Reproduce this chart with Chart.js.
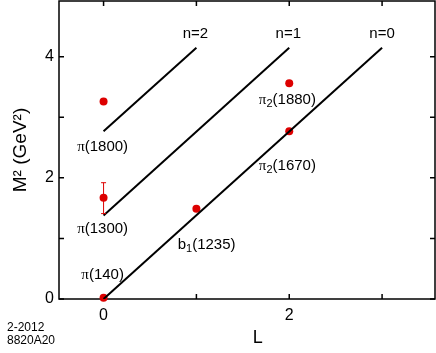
<!DOCTYPE html>
<html>
<head>
<meta charset="utf-8">
<script src="https://cdn.jsdelivr.net/npm/chart.js@4.4.1/dist/chart.umd.min.js"></script>
<style>
  html, body { margin: 0; padding: 0; background: #fff; }
  #wrap { width: 436px; height: 353px; }
</style>
</head>
<body>
<div id="wrap"><canvas id="c" width="436" height="353"></canvas></div>
<script>
// Regge trajectories (straight lines in L vs M^2)
const trajNames = ['n=0', 'n=1', 'n=2'];
const trajStartL = [0, 0, 0];
const trajEndL = [3, 2, 1];
const trajStartM2 = [0, 1.38, 2.77];
const trajEndM2 = [4.15, 4.15, 4.15];
const trajLabelL = [3.0, 1.99, 0.99];
const trajLabelM2 = [4.37, 4.37, 4.37];

// measured states
const mesonNames = ['π(140)', 'π(1300)', 'π(1800)', 'b_1(1235)', 'π_2(1670)', 'π_2(1880)'];
const mesonL = [0, 0, 0, 1, 2, 2];
const mesonM2 = [0.02, 1.67, 3.26, 1.49, 2.77, 3.56];
const mesonErrLo = [null, 1.41, null, null, null, null];
const mesonErrHi = [null, 1.92, null, null, null, null];
const mesonLabelL = [-0.01, -0.01, -0.01, 1.11, 1.98, 1.98];
const mesonLabelM2 = [0.40, 1.16, 2.51, 0.89, 2.20, 3.29];

const xTickLabels = { 0: '0', 2: '2' };
const yTickLabels = { 0: '0', 2: '2', 4: '4' };

const FONT = '"Liberation Sans", Arial, Helvetica, sans-serif';
const RED = '#dd0000';

const lineSets = trajNames.map((n, i) => ({
  type: 'line',
  label: n,
  data: [{ x: trajStartL[i], y: trajStartM2[i] }, { x: trajEndL[i], y: trajEndM2[i] }],
  borderColor: '#000',
  borderWidth: 2,
  pointRadius: 0,
  fill: false,
}));

const pointSet = {
  type: 'scatter',
  label: 'mesons',
  data: mesonL.map((l, i) => ({ x: l, y: mesonM2[i] })),
  backgroundColor: RED,
  borderColor: RED,
  pointRadius: 4,
  borderWidth: 0,
  clip: false,
};

// draw a label like b_1(1235) with subscript
function drawLabel(ctx, text, cx, cy, size) {
  const m = text.match(/^(.)(?:_(\w))?(.*)$/);
  const head = m[1], sub = m[2] || '', rest = m[3];
  const headFont = head === 'π' ? `${size}px "Liberation Serif", "DejaVu Serif", serif` : `${size}px ${FONT}`;
  const subFont = `${Math.round(size * 0.72)}px ${FONT}`;
  const restFont = `${size}px ${FONT}`;
  ctx.font = headFont; const w1 = ctx.measureText(head).width;
  ctx.font = subFont; const w2 = sub ? ctx.measureText(sub).width : 0;
  ctx.font = restFont; const w3 = ctx.measureText(rest).width;
  let x = cx - (w1 + w2 + w3) / 2;
  ctx.textAlign = 'left';
  ctx.textBaseline = 'middle';
  ctx.fillStyle = '#000';
  ctx.font = headFont; ctx.fillText(head, x, cy); x += w1;
  if (sub) { ctx.font = subFont; ctx.fillText(sub, x, cy + 4); x += w2; }
  ctx.font = restFont; ctx.fillText(rest, x, cy);
}

const decor = {
  id: 'decor',
  beforeDatasetsDraw(chart) {
    const { ctx, chartArea: a, scales: { x, y } } = chart;
    ctx.save();
    // frame
    ctx.strokeStyle = '#000';
    ctx.lineWidth = 1.5;
    ctx.strokeRect(a.left, a.top, a.right - a.left, a.bottom - a.top);
    // inward ticks on all four sides
    const tl = 5;
    ctx.beginPath();
    x.ticks.forEach(t => {
      const px = x.getPixelForValue(t.value);
      ctx.moveTo(px, a.bottom); ctx.lineTo(px, a.bottom - tl);
      ctx.moveTo(px, a.top); ctx.lineTo(px, a.top + tl);
    });
    y.ticks.forEach(t => {
      const py = y.getPixelForValue(t.value);
      ctx.moveTo(a.left, py); ctx.lineTo(a.left + tl, py);
      ctx.moveTo(a.right, py); ctx.lineTo(a.right - tl, py);
    });
    ctx.stroke();
    ctx.restore();
  },
  afterDatasetsDraw(chart) {
    const { ctx, scales: { x, y } } = chart;
    ctx.save();
    // error bars
    ctx.strokeStyle = RED;
    ctx.lineWidth = 1;
    mesonErrLo.forEach((lo, i) => {
      if (lo == null) return;
      const px = x.getPixelForValue(mesonL[i]);
      const p1 = y.getPixelForValue(lo), p2 = y.getPixelForValue(mesonErrHi[i]);
      ctx.beginPath();
      ctx.moveTo(px, p1); ctx.lineTo(px, p2);
      ctx.moveTo(px - 2.5, p1); ctx.lineTo(px + 2.5, p1);
      ctx.moveTo(px - 2.5, p2); ctx.lineTo(px + 2.5, p2);
      ctx.stroke();
    });
    // text labels
    trajNames.forEach((n, i) => {
      drawLabel(ctx, n, x.getPixelForValue(trajLabelL[i]), y.getPixelForValue(trajLabelM2[i]), 15);
    });
    mesonNames.forEach((n, i) => {
      drawLabel(ctx, n, x.getPixelForValue(mesonLabelL[i]), y.getPixelForValue(mesonLabelM2[i]), 15);
    });
    // figure id
    ctx.font = `12px ${FONT}`;
    ctx.textAlign = 'left';
    ctx.textBaseline = 'middle';
    ctx.fillStyle = '#000';
    ctx.fillText('2-2012', 7, 328);
    ctx.fillText('8820A20', 7, 341);
    ctx.restore();
  }
};

new Chart(document.getElementById('c'), {
  data: { datasets: [...lineSets, pointSet] },
  options: {
    responsive: false,
    animation: false,
    layout: { autoPadding: false, padding: { top: 1, right: 1, left: 0, bottom: 0 } },
    plugins: { legend: { display: false }, tooltip: { enabled: false } },
    scales: {
      x: {
        type: 'linear',
        min: -0.48,
        max: 3.57,
        afterFit: s => { s.height = 54; s.paddingLeft = 0; s.paddingRight = 0; },
        ticks: {
          stepSize: 1,
          includeBounds: false,
          padding: 7,
          color: '#000',
          font: { family: FONT, size: 16 },
          maxRotation: 0,
          callback: v => xTickLabels[v] ?? '',
        },
        grid: { drawOnChartArea: false, drawTicks: false },
        border: { display: false },
        title: { display: true, text: '\u2003\u2009L', color: '#000', font: { family: FONT, size: 18 }, padding: { top: 0, bottom: 4 } },
      },
      y: {
        type: 'linear',
        min: 0,
        max: 4.92,
        afterFit: s => { s.width = 59; s.paddingTop = 0; s.paddingBottom = 0; },
        ticks: {
          stepSize: 1,
          includeBounds: false,
          padding: 5,
          color: '#000',
          font: { family: FONT, size: 16 },
          callback: v => yTickLabels[v] ?? '',
        },
        grid: { drawOnChartArea: false, drawTicks: false },
        border: { display: false },
        title: { display: true, text: 'M² (GeV²)', color: '#000', font: { family: FONT, size: 19 }, padding: { top: 9, bottom: 0 } },
      },
    },
  },
  plugins: [decor],
});
</script>
</body>
</html>
